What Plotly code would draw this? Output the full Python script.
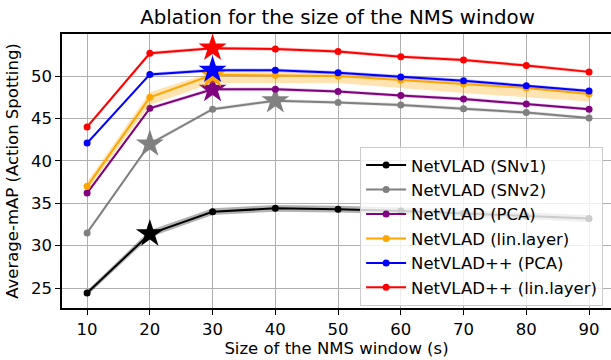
import plotly.graph_objects as go

window = [10, 20, 30, 40, 50, 60, 70, 80, 90]

names = ["NetVLAD (SNv1)", "NetVLAD (SNv2)", "NetVLAD (PCA)",
         "NetVLAD (lin.layer)", "NetVLAD++ (PCA)", "NetVLAD++ (lin.layer)"]
colors = ["black", "gray", "purple", "orange", "blue", "red"]
band_colors = ["rgba(0,0,0,0.3)", "rgba(128,128,128,0.25)", "rgba(128,0,128,0.25)",
               "rgba(255,165,0,0.3)", "rgba(0,0,255,0.25)", "rgba(255,0,0,0.25)"]

snv1 = [24.4, 31.4, 34.0, 34.4, 34.3, 34.1, 33.8, 33.5, 33.2]
snv2 = [31.5, 42.0, 46.1, 47.1, 46.9, 46.6, 46.15, 45.7, 45.05]
pca = [36.2, 46.2, 48.45, 48.45, 48.2, 47.7, 47.3, 46.7, 46.1]
lin = [37.0, 47.5, 50.15, 50.1, 50.0, 49.55, 49.1, 48.6, 47.9]
pp_pca = [42.1, 50.2, 50.7, 50.7, 50.4, 49.9, 49.45, 48.85, 48.25]
pp_lin = [44.0, 52.7, 53.3, 53.2, 52.9, 52.3, 51.9, 51.25, 50.5]

snv1_lo = [24.1, 31.0, 33.6, 34.0, 33.9, 33.7, 33.4, 33.1, 32.8]
snv1_hi = [24.7, 31.8, 34.4, 34.8, 34.7, 34.5, 34.2, 33.9, 33.6]
snv2_lo = [31.3, 41.8, 45.9, 46.9, 46.7, 46.4, 45.95, 45.5, 44.85]
snv2_hi = [31.7, 42.2, 46.3, 47.3, 47.1, 46.8, 46.35, 45.9, 45.25]
pca_lo = [36.0, 46.0, 48.25, 48.25, 48.0, 47.5, 47.1, 46.5, 45.9]
pca_hi = [36.4, 46.4, 48.65, 48.65, 48.4, 47.9, 47.5, 46.9, 46.3]
lin_lo = [36.5, 46.6, 49.2, 49.2, 49.2, 48.6, 48.0, 47.5, 47.0]
lin_hi = [37.5, 48.1, 50.5, 50.5, 50.45, 49.9, 49.4, 48.85, 48.4]
pp_pca_lo = [41.9, 50.0, 50.5, 50.5, 50.2, 49.7, 49.25, 48.65, 48.05]
pp_pca_hi = [42.3, 50.4, 50.9, 50.9, 50.6, 50.1, 49.65, 49.05, 48.45]
pp_lin_lo = [43.8, 52.5, 53.1, 53.0, 52.7, 52.1, 51.7, 51.05, 50.3]
pp_lin_hi = [44.2, 52.9, 53.5, 53.4, 53.1, 52.5, 52.1, 51.45, 50.7]

series = [snv1, snv2, pca, lin, pp_pca, pp_lin]
lows = [snv1_lo, snv2_lo, pca_lo, lin_lo, pp_pca_lo, pp_lin_lo]
highs = [snv1_hi, snv2_hi, pca_hi, lin_hi, pp_pca_hi, pp_lin_hi]
star_windows = [[20], [20, 40], [30], [30], [30], [30]]

xticks = [10, 20, 30, 40, 50, 60, 70, 80, 90]
yticks = [25, 30, 35, 40, 45, 50]

fig = go.Figure()
for i, (name, col, bcol, ys, lo, hi, stars) in enumerate(
        zip(names, colors, band_colors, series, lows, highs, star_windows)):
    fig.add_trace(go.Scatter(
        x=window + window[::-1], y=hi + lo[::-1], fill="toself",
        fillcolor=bcol, line=dict(width=0), mode="lines",
        hoverinfo="skip", showlegend=False))
    fig.add_trace(go.Scatter(
        x=window, y=ys, name=name, mode="lines+markers",
        line=dict(color=col, width=2), marker=dict(color=col, size=7)))
    sy = [ys[window.index(s)] for s in stars]
    fig.add_trace(go.Scatter(
        x=stars, y=sy, mode="markers", showlegend=False,
        marker=dict(symbol="star", color=col, size=21, line=dict(width=0))))

font = "DejaVu Sans, sans-serif"
fs = 16.5
fig.update_layout(
    width=611, height=360,
    margin=dict(l=62, r=0, t=34, b=52),
    plot_bgcolor="white", paper_bgcolor="white",
    font=dict(family=font, size=fs, color="black"),
    title=dict(text="Ablation for the size of the NMS window", x=0.5524, xanchor="center",
               y=0.953, yanchor="middle", font=dict(size=19.8, family=font)),
    showlegend=True,
    legend=dict(x=0.543, y=0.588, xanchor="left", yanchor="top",
                bgcolor="rgba(255,255,255,0.8)", bordercolor="#cccccc", borderwidth=1,
                font=dict(size=fs, family=font), itemwidth=40),
)
fig.update_xaxes(range=[6, 93.5], tickvals=xticks, showgrid=True, gridcolor="#b0b0b0",
                 gridwidth=1.2, showline=True, linecolor="black", linewidth=1.5, mirror=True,
                 ticks="outside", ticklen=5, tickcolor="black", zeroline=False,
                 title=dict(text="Size of the NMS window (s)", standoff=4, font=dict(size=fs)),
                 tickfont=dict(size=fs), automargin=False)
fig.update_yaxes(range=[22.64, 54.97], tickvals=yticks, showgrid=True, gridcolor="#b0b0b0",
                 gridwidth=1.2, showline=True, linecolor="black", linewidth=1.5, mirror=False,
                 ticks="outside", ticklen=5, tickcolor="black", zeroline=False,
                 title=dict(text="Average-mAP (Action Spotting)", standoff=8, font=dict(size=fs)),
                 tickfont=dict(size=fs), automargin=False)

fig.write_html("out.html", config={"displayModeBar": False},
               post_script="document.body.style.margin='0';document.body.style.overflow='hidden';")
